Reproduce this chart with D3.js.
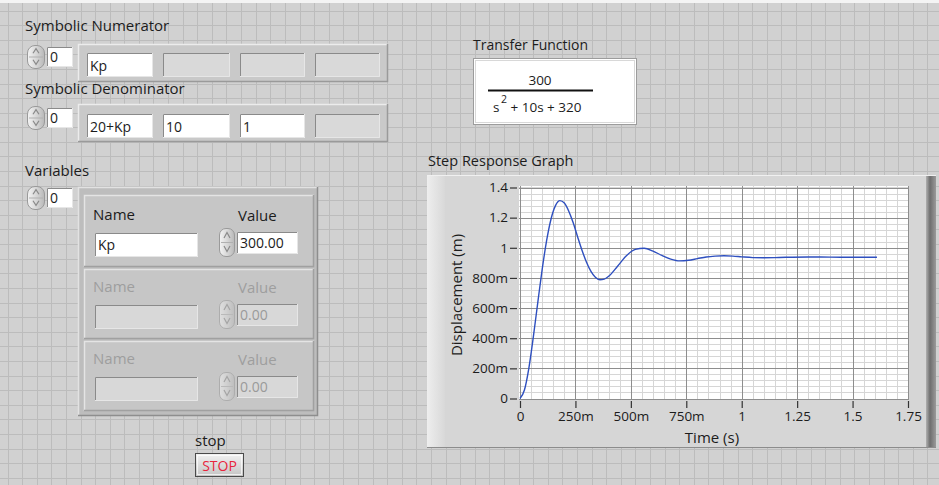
<!DOCTYPE html>
<html><head><meta charset="utf-8">
<script src="https://cdn.jsdelivr.net/npm/d3@7"></script>
<style>
html,body{margin:0;padding:0;background:#cfcfcf;overflow:hidden}
text{font-family:"Open Sans",sans-serif}
</style>
</head><body>
<svg id="c" width="939" height="485"></svg>
<script>
// ---------------- data ----------------
const timeS = [0,0.02,0.04,0.06,0.08,0.10,0.12,0.14,0.16,0.18,0.20,0.22,0.24,0.26,0.28,0.30,0.32,0.34,0.36,0.38,0.40,0.44,0.48,0.52,0.56,0.60,0.64,0.68,0.72,0.76,0.80,0.84,0.88,0.92,0.96,1.00,1.05,1.10,1.15,1.20,1.30,1.40,1.50,1.61];
const displacement = [0,0.056,0.202,0.407,0.635,0.857,1.047,1.191,1.280,1.313,1.297,1.243,1.166,1.072,0.982,0.904,0.843,0.804,0.788,0.792,0.811,0.878,0.947,0.989,0.997,0.978,0.949,0.925,0.913,0.917,0.928,0.939,0.945,0.947,0.945,0.940,0.935,0.934,0.935,0.937,0.939,0.938,0.9375,0.9375];
const xTickValues = [0,0.25,0.5,0.75,1,1.25,1.5,1.75];
const xTickLabels = ["0","250m","500m","750m","1","1.25","1.5","1.75"];
const yTickValues = [0,0.2,0.4,0.6,0.8,1,1.2,1.4];
const yTickLabels = ["0","200m","400m","600m","800m","1","1.2","1.4"];
const numeratorTerms = ["Kp","","",""];
const denominatorTerms = ["20+Kp","10","1",""];
const variableNames = ["Kp","",""];
const variableValues = ["300.00","0.00","0.00"];
const variableEnabled = [true,false,false];

// ---------------- drawing ----------------
const svg = d3.select("#c");
const defs = svg.append("defs");
function lg(id, stops, vertical){
  const g = defs.append("linearGradient").attr("id", id)
    .attr("x1",0).attr("y1",0).attr("x2",vertical?0:1).attr("y2",vertical?1:0);
  stops.forEach(s=>g.append("stop").attr("offset",s[0]).attr("stop-color",s[1]));
}
lg("spin", [[0,"#f4f4f4"],[0.5,"#d8d8d8"],[1,"#b8b8b8"]], false);
lg("btn", [[0,"#f2f2f2"],[1,"#c4c4c4"]], true);
lg("frameR", [[0,"#b0b0b0"],[0.4,"#6e6e6e"],[1,"#9a9a9a"]], false);
lg("frameL", [[0,"#eeeeee"],[1,"#d8d8d8"]], false);

// panel background + grid
svg.append("rect").attr("width",939).attr("height",485).attr("fill","#d1d1d1");
const gridStep = 14.6;
const pg = svg.append("g").attr("stroke","#bcbcbc").attr("stroke-width",1);
for(let x=7.5; x<939; x+=gridStep) pg.append("line").attr("x1",Math.round(x)+0.5).attr("x2",Math.round(x)+0.5).attr("y1",0).attr("y2",485);
for(let y=10.5; y<485; y+=gridStep) pg.append("line").attr("y1",Math.round(y)+0.5).attr("y2",Math.round(y)+0.5).attr("x1",0).attr("x2",939);
svg.append("rect").attr("width",939).attr("height",3).attr("fill","#f4f4f4");

function bevel(x,y,w,h,fill,light,dark){
  const g = svg.append("g");
  g.append("rect").attr("x",x).attr("y",y).attr("width",w).attr("height",h).attr("fill",fill);
  g.append("path").attr("d",`M${x+0.5},${y+h}V${y+0.5}H${x+w}`).attr("fill","none").attr("stroke",light).attr("stroke-width",1.5);
  g.append("path").attr("d",`M${x+w-0.5},${y}V${y+h-0.5}H${x}`).attr("fill","none").attr("stroke",dark).attr("stroke-width",1.5);
  return g;
}
function inset(x,y,w,h,fill){
  svg.append("rect").attr("x",x).attr("y",y).attr("width",w).attr("height",h).attr("fill",fill);
  svg.append("path").attr("d",`M${x+0.5},${y+h}V${y+0.5}H${x+w}`).attr("fill","none").attr("stroke","#8a8a8a");
  svg.append("path").attr("d",`M${x+w-0.5},${y}V${y+h-0.5}H${x}`).attr("fill","none").attr("stroke","#e6e6e6");
}
function label(x,y,t,opts={}){
  return svg.append("text").attr("x",x).attr("y",y).text(t)
    .attr("font-size",opts.size||15).attr("fill",opts.fill||"#1c1c1c")
    .attr("text-anchor",opts.anchor||"start");
}
function spinner(x,y,w,h,faded){
  const g = svg.append("g").attr("opacity",faded?0.55:1);
  g.append("rect").attr("x",x+0.5).attr("y",y+0.5).attr("width",w).attr("height",h).attr("rx",w/2-1)
    .attr("fill","url(#spin)").attr("stroke","#9a9a9a");
  const cx = x+w/2+0.5;
  g.append("path").attr("d",`M${cx-3},${y+h*0.36}L${cx},${y+h*0.16}L${cx+3},${y+h*0.36}`).attr("fill","none").attr("stroke","#8a8a8a").attr("stroke-width",1.2);
  g.append("path").attr("d",`M${cx-3},${y+h*0.64}L${cx},${y+h*0.84}L${cx+3},${y+h*0.64}`).attr("fill","none").attr("stroke","#8a8a8a").attr("stroke-width",1.2);
  g.append("line").attr("x1",x+2).attr("x2",x+w-1).attr("y1",y+h/2+0.5).attr("y2",y+h/2+0.5).attr("stroke","#b0b0b0");
}
function indexCtl(x,y){
  spinner(x,y,17,23);
  inset(x+20,y+2,26,20,"#ffffff");
  label(x+23,y+17,"0",{size:14});
}

// Symbolic Numerator
label(25,31,"Symbolic Numerator");
indexCtl(27,45);
bevel(78,44,310,38,"#c9c9c9","#ececec","#9a9a9a");
const elemX = [87,163,240,315], elemW = [66,67,65,65];
numeratorTerms.forEach((t,i)=>{
  inset(elemX[i],53,elemW[i],24, t?"#ffffff":"#d9d9d9");
  if(t) label(elemX[i]+3,71,t,{size:14});
});

// Symbolic Denominator
label(25,94,"Symbolic Denominator");
indexCtl(27,106);
bevel(78,104,310,38,"#c9c9c9","#ececec","#9a9a9a");
denominatorTerms.forEach((t,i)=>{
  inset(elemX[i],114,elemW[i],24, t?"#ffffff":"#d9d9d9");
  if(t) label(elemX[i]+3,132,t,{size:14});
});

// Variables
label(25,176,"Variables");
indexCtl(27,186);
bevel(78,187,240,229,"#bdbdbd","#e2e2e2","#8e8e8e");
const clusterTop = [195,269,341];
const clusterH = [72,70,70];
clusterTop.forEach((T,i)=>{
  const en = variableEnabled[i];
  const C = i===0 ? T+2 : T;
  bevel(84,T,230,clusterH[i],"#c6c6c6","#e4e4e4","#a0a0a0");
  label(93,C+23,"Name",{fill:en?"#1c1c1c":"#9e9e9e"});
  label(238,C+24,"Value",{fill:en?"#1c1c1c":"#9e9e9e"});
  inset(95,C+36,103,24,en?"#ffffff":"#d8d8d8");
  if(variableNames[i]) label(98,C+53,variableNames[i],{size:14});
  spinner(219,C+31,15,28,!en);
  inset(237,C+35,61,22,en?"#ffffff":"#d8d8d8");
  label(240,C+51,variableValues[i],{size:14,fill:en?"#1c1c1c":"#9a9a9a"});
});

// stop button
label(195,446,"stop");
svg.append("rect").attr("x",195.5).attr("y",453.5).attr("width",48).attr("height",23).attr("fill","url(#btn)").attr("stroke","#4a4a4a");
svg.append("rect").attr("x",197.5).attr("y",455.5).attr("width",44).attr("height",19).attr("fill","none").attr("stroke","#ffffff").attr("opacity",0.7);
label(219.5,471,"STOP",{size:14,fill:"#e8243c",anchor:"middle"});

// Transfer function
label(473,50,"Transfer Function",{size:14});
svg.append("rect").attr("x",473.5).attr("y",58.5).attr("width",163).attr("height",66).attr("fill","#ffffff").attr("stroke","#9c9c9c");
svg.append("rect").attr("x",475.5).attr("y",60.5).attr("width",159).attr("height",62).attr("fill","none").attr("stroke","#d8d8d8");
label(540,85,"300",{size:13.5,anchor:"middle"});
svg.append("line").attr("x1",488).attr("x2",593).attr("y1",90.5).attr("y2",90.5).attr("stroke","#111").attr("stroke-width",2);
label(493,112,"s",{size:13.5});
label(501,103,"2",{size:10.5});
svg.append("text").attr("x",507).attr("y",112).attr("font-size",13.5).attr("fill","#1c1c1c").attr("xml:space","preserve").text(" + 10s + 320");

// Graph frame
label(428,166,"Step Response Graph",{size:14.5});
svg.append("rect").attr("x",427).attr("y",175).attr("width",508).attr("height",273).attr("fill","#d6d6d6");
svg.append("rect").attr("x",427).attr("y",175).attr("width",18).attr("height",273).attr("fill","url(#frameL)");
svg.append("rect").attr("x",926).attr("y",175).attr("width",10).attr("height",273).attr("fill","url(#frameR)");
svg.append("line").attr("x1",427).attr("x2",936).attr("y1",175.5).attr("y2",175.5).attr("stroke","#f0f0f0");
svg.append("line").attr("x1",427).attr("x2",936).attr("y1",447.5).attr("y2",447.5).attr("stroke","#8c8c8c");

const x = d3.scaleLinear().domain([0,1.75]).range([520,908]);
const y = d3.scaleLinear().domain([0,1.4]).range([398.5,187.5]);
const pL=519, pR=909, pT=186, pB=400;
svg.append("rect").attr("x",pL).attr("y",pT).attr("width",pR-pL).attr("height",pB-pT).attr("fill","#ffffff");
const plot = svg.append("g");
// minor grid
const minorX = d3.range(0, 1.7501, 0.05);
const minorY = d3.range(0, 1.4001, 0.04);
plot.selectAll(".mx").data(minorX).join("line")
  .attr("x1",d=>Math.round(x(d))+0.5).attr("x2",d=>Math.round(x(d))+0.5).attr("y1",pT).attr("y2",pB)
  .attr("stroke","#d6d6d6");
plot.selectAll(".my").data(minorY).join("line")
  .attr("y1",d=>Math.round(y(d))+0.5).attr("y2",d=>Math.round(y(d))+0.5).attr("x1",pL).attr("x2",pR)
  .attr("stroke","#d6d6d6");
// major grid
plot.selectAll(".Mx").data(xTickValues).join("line")
  .attr("x1",d=>Math.round(x(d))+0.5).attr("x2",d=>Math.round(x(d))+0.5).attr("y1",pT).attr("y2",pB)
  .attr("stroke","#8e8e8e");
plot.selectAll(".My").data(yTickValues).join("line")
  .attr("y1",d=>Math.round(y(d))+0.5).attr("y2",d=>Math.round(y(d))+0.5).attr("x1",pL).attr("x2",pR)
  .attr("stroke","#8e8e8e");

// curve
const pts = timeS.map((t,i)=>[t,displacement[i]]);
plot.append("path").datum(pts)
  .attr("d", d3.line().x(d=>x(d[0])).y(d=>y(d[1])).curve(d3.curveMonotoneX))
  .attr("fill","none").attr("stroke","#2e4fbf").attr("stroke-width",1.4);

// axes
const xAxis = d3.axisBottom(x).tickValues(xTickValues).tickFormat((d,i)=>xTickLabels[i]).tickSize(7).tickPadding(3);
const gx = svg.append("g").attr("transform","translate(0,401)").call(xAxis);
gx.select(".domain").remove();
gx.selectAll(".tick line").attr("stroke","#333").attr("stroke-width",1.2);
gx.selectAll(".tick text").attr("font-size",13.5).attr("fill","#1c1c1c").attr("font-family","Open Sans");

const yAxis = d3.axisLeft(y).tickValues(yTickValues).tickFormat((d,i)=>yTickLabels[i]).tickSize(7).tickPadding(2);
const gy = svg.append("g").attr("transform","translate(517,0)").call(yAxis);
gy.select(".domain").remove();
gy.selectAll(".tick line").attr("stroke","#333").attr("stroke-width",1.2);
gy.selectAll(".tick text").attr("font-size",13.5).attr("fill","#1c1c1c").attr("font-family","Open Sans");

label(712,443,"Time (s)",{size:15,anchor:"middle"});
svg.append("text").attr("transform","translate(462,295) rotate(-90)").attr("text-anchor","middle")
  .attr("font-size",15).attr("fill","#1c1c1c").text("Displacement (m)");
</script>
</body></html>
